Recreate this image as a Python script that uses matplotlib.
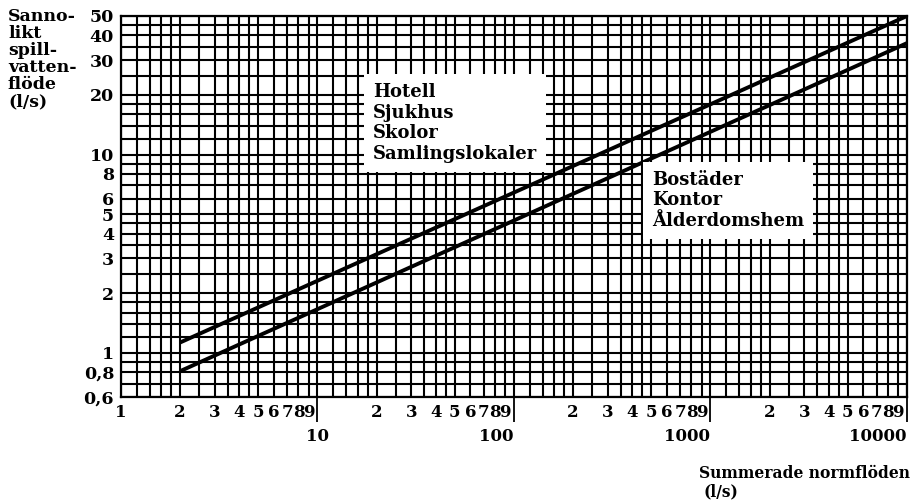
import matplotlib
matplotlib.use("Agg")
import matplotlib.pyplot as plt
from matplotlib.ticker import FixedLocator, NullLocator, FixedFormatter

# ---- data ----
x_ends = [2, 10000]
upper_line = [1.13, 50]      # Hotell, Sjukhus, Skolor, Samlingslokaler
lower_line = [0.81, 36.5]    # Bostäder, Kontor, Ålderdomshem

x_minor_ticks = [1, 2, 3, 4, 5, 6, 7, 8, 9,
                 20, 30, 40, 50, 60, 70, 80, 90,
                 200, 300, 400, 500, 600, 700, 800, 900,
                 2000, 3000, 4000, 5000, 6000, 7000, 8000, 9000]
x_minor_labels = ["1"] + [str(k) for k in range(2, 10)] * 4
x_major_ticks = [10, 100, 1000, 10000]
x_major_labels = ["10", "100", "1000", "10000"]

y_ticks = [0.6, 0.8, 1, 2, 3, 4, 5, 6, 8, 10, 20, 30, 40, 50]
y_labels = ["0,6", "0,8", "1", "2", "3", "4", "5", "6", "8", "10", "20", "30", "40", "50"]

text_upper = "Hotell\nSjukhus\nSkolor\nSamlingslokaler"
text_lower = "Bostäder\nKontor\nÅlderdomshem"

# grid pattern within a decade
decade_steps = [1, 1.2, 1.4, 1.6, 1.8, 2, 2.5, 3, 3.5, 4, 4.5, 5, 6, 7, 8, 9]

FONT = "DejaVu Serif"
plt.rcParams["font.family"] = [FONT, "DejaVu Sans"]
plt.rcParams["font.weight"] = "bold"

fig = plt.figure(figsize=(9.12, 5.03), dpi=100)
ax = fig.add_axes([121 / 912, 1 - 397 / 503, (907 - 121) / 912, (397 - 16) / 503])
ax.set_xscale("log")
ax.set_yscale("log")
ax.set_xlim(1, 10000)
ax.set_ylim(0.6, 50)

# grid
xs = [d * s for d in (1, 10, 100, 1000) for s in decade_steps] + [10000]
ys = [0.6, 0.7, 0.8, 0.9] + [d * s for d in (1, 10) for s in decade_steps if d * s <= 50]
for xv in xs:
    ax.axvline(xv, color="black", lw=1.5, zorder=1)
for yv in ys:
    ax.axhline(yv, color="black", lw=1.5, zorder=1)

# lines
ax.plot(x_ends, upper_line, color="black", lw=2.8, zorder=3, solid_capstyle="butt")
ax.plot(x_ends, lower_line, color="black", lw=2.8, zorder=3, solid_capstyle="butt")

# text boxes
box = dict(facecolor="white", edgecolor="none", boxstyle="square,pad=0.5")
ax.text(19.2, 23.0, text_upper, ha="left", va="top", fontsize=13, linespacing=1.2,
        bbox=box, zorder=4)
ax.text(505, 8.3, text_lower, ha="left", va="top", fontsize=13, linespacing=1.2,
        bbox=box, zorder=4)

for s in ax.spines.values():
    s.set_linewidth(1.6)
    s.set_zorder(5)

# x ticks
ax.xaxis.set_major_locator(FixedLocator(x_major_ticks))
ax.xaxis.set_major_formatter(FixedFormatter(x_major_labels))
ax.xaxis.set_minor_locator(FixedLocator(x_minor_ticks))
ax.xaxis.set_minor_formatter(FixedFormatter(x_minor_labels))
ax.tick_params(axis="x", which="major", length=18, width=1.3, direction="out",
               pad=4, labelsize=12)
ax.tick_params(axis="x", which="minor", length=0, pad=5, labelsize=12)
for lab in ax.get_xticklabels():
    if lab.get_text() != "10":
        lab.set_horizontalalignment("right")

# y ticks
ax.yaxis.set_major_locator(FixedLocator(y_ticks))
ax.yaxis.set_major_formatter(FixedFormatter(y_labels))
ax.yaxis.set_minor_locator(NullLocator())
ax.tick_params(axis="y", which="major", length=0, pad=5, labelsize=12.5)

# axis titles
fig.text(8 / 912, 1 - 8 / 503, "Sanno-\nlikt\nspill-\nvatten-\nflöde\n(l/s)",
         ha="left", va="top", fontsize=12.5, linespacing=1.0)
fig.text(910 / 912, 1 - 473 / 503, "Summerade normflöden", ha="right", va="center",
         fontsize=11.2)
fig.text(704 / 912, 1 - 492 / 503, "(l/s)", ha="left", va="center", fontsize=11.2)

fig.savefig("out.png", dpi=100)
